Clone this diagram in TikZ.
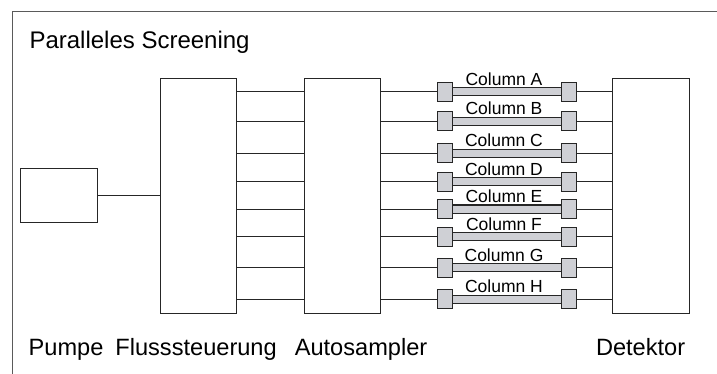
\documentclass[tikz,border=0pt]{standalone}
\usepackage{fontspec}
\setmainfont{Liberation Sans}
\definecolor{partgray}{HTML}{CFD0D5}
\definecolor{edge}{HTML}{262626}
\definecolor{framegray}{HTML}{5A5A5A}
\begin{document}
\begin{tikzpicture}[x=1pt,y=-1pt,
  unit/.style={draw=edge,line width=1pt,fill=white,inner sep=0pt,anchor=north west},
  fitting/.style={draw=edge,line width=1pt,fill=partgray,inner sep=0pt,
    minimum width=14.5pt,minimum height=19pt},
  tube/.style={draw=edge,line width=1pt,fill=partgray,inner sep=0pt,
    minimum width=112pt,minimum height=8pt},
  pipe/.style={draw=edge,line width=1pt},
  biglabel/.style={inner sep=0pt,anchor=base west,font=\fontsize{23.6}{27}\selectfont},
  collabel/.style={inner sep=0pt,anchor=base,font=\fontsize{17.5}{20}\selectfont}]
  \useasboundingbox (0,0) rectangle (717,374);

  % open frame around the set-up
  \coordinate (frTR) at (717,11.7);
  \coordinate (frTL) at (12.7,11.7);
  \coordinate (frBL) at (12.7,374);
  \draw[framegray,line width=1pt] (frTR) -- (frTL) -- (frBL);

  \node[biglabel,font=\fontsize{24}{28}\selectfont] (title) at (29.3,48.3) {Paralleles Screening};

  % main units
  \node[unit,minimum width=77pt,minimum height=53.7pt] (pump) at (20.3,168) {};
  \node[unit,minimum width=76.6pt,minimum height=234.8pt] (flow) at (159.7,77.7) {};
  \node[unit,minimum width=76.3pt,minimum height=234.8pt] (auto) at (304,77.7) {};
  \node[unit,minimum width=76.7pt,minimum height=235.3pt] (det) at (612.3,78) {};

  \draw[pipe] (pump.east) -- (pump.east -| flow.west);

  % eight parallel column lines
  \foreach \r/\y/\c in {1/92/A,2/121.3/B,3/153.2/C,4/181.8/D,5/209/E,6/236.7/F,7/267.5/G,8/299/H}{
    \node[tube] (tube\r) at (507,\y) {};
    \node[fitting] (lf\r) at (444.9,\y) {};
    \node[fitting] (rf\r) at (569.1,\y) {};
    \draw[pipe] (lf\r -| flow.east) -- (lf\r -| auto.west);
    \draw[pipe] (lf\r -| auto.east) -- (lf\r.west);
    \draw[pipe] (rf\r.east) -- (rf\r -| det.west);
    \node[collabel] (lab\r) at (504,\y-6.5) {Column \c};
  }

  % unit names
  \node[biglabel] (lpump) at (28.5,355.5) {Pumpe};
  \node[biglabel] (lflow) at (115.2,355.5) {Flusssteuerung};
  \node[biglabel] (lauto) at (294.6,355.5) {Autosampler};
  \node[biglabel] (ldet) at (595.8,355.5) {Detektor};
\end{tikzpicture}
\end{document}
